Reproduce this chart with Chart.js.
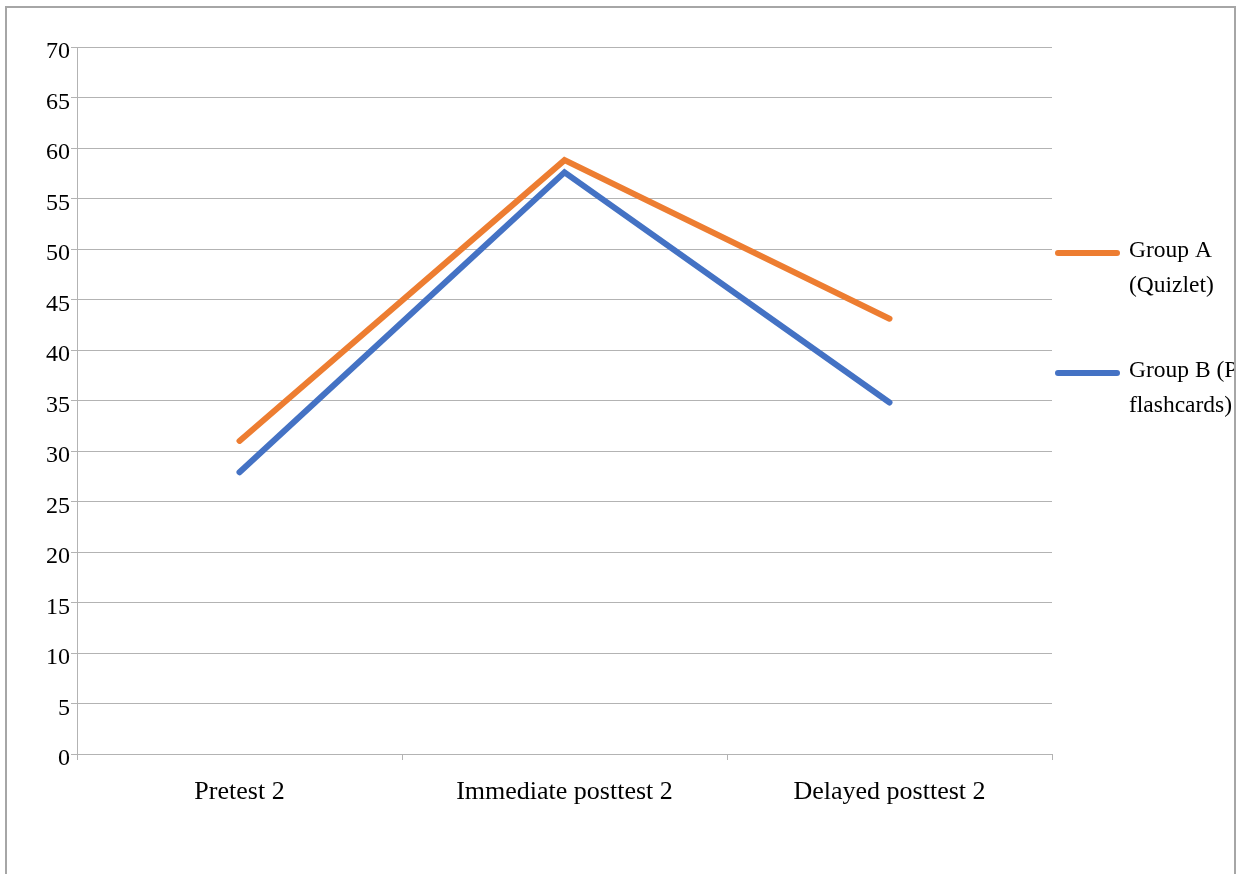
<!DOCTYPE html>
<html>
<head>
<meta charset="utf-8">
<title>Group A vs Group B test scores</title>
<script src="https://cdn.jsdelivr.net/npm/chart.js@4/dist/chart.umd.min.js"></script>
<style>
  html, body { margin: 0; padding: 0; background: #ffffff; }
  canvas { display: block; }
</style>
</head>
<body>
<canvas id="chart" width="1238" height="874"></canvas>
<script>
// Test stages on the x axis
const categories = ['Pretest 2', 'Immediate posttest 2', 'Delayed posttest 2'];

// Mean scores per group
const groupA = [31.0, 58.8, 43.1];
const groupB = [27.9, 57.6, 34.8];

// Series names and how they wrap in the legend
const seriesNames = ['Group A (Quizlet)', 'Group B (Paper flashcards)'];
const legendLines = [['Group A', '(Quizlet)'], ['Group B (Paper', 'flashcards)']];

// Y axis range
const yMin = 0, yMax = 70, yStep = 5;

const FONT = '"Liberation Serif", "Times New Roman", serif';
const GRID = '#b3b3b3';
const COLORS = ['#ed7d31', '#4472c4'];

// Thin frame around the whole figure
const framePlugin = {
  id: 'frame',
  beforeDraw(chart) {
    const ctx = chart.ctx;
    ctx.save();
    ctx.fillStyle = '#ffffff';
    ctx.fillRect(0, 0, chart.width, chart.height);
    ctx.strokeStyle = '#a6a6a6';
    ctx.lineWidth = 2;
    ctx.strokeRect(6, 7, 1229, 900);
    ctx.restore();
  }
};

// Legend on the right: a short line sample followed by wrapped text
const sideLegend = {
  id: 'sideLegend',
  afterDraw(chart, args, opts) {
    const ctx = chart.ctx;
    ctx.save();
    ctx.beginPath();
    ctx.rect(0, 0, opts.clipRight, chart.height);
    ctx.clip();
    chart.data.datasets.forEach((ds, i) => {
      const y = opts.rows[i];
      ctx.strokeStyle = ds.borderColor;
      ctx.lineWidth = 6;
      ctx.lineCap = 'round';
      ctx.beginPath();
      ctx.moveTo(opts.lineX0, y);
      ctx.lineTo(opts.lineX1, y);
      ctx.stroke();
      ctx.fillStyle = '#000000';
      ctx.font = '23.5px ' + FONT;
      ctx.textAlign = 'left';
      ctx.textBaseline = 'middle';
      legendLines[i].forEach((t, k) => {
        ctx.fillText(t, opts.textX, y - 2 + k * opts.lineGap);
      });
    });
    ctx.restore();
  }
};

new Chart(document.getElementById('chart'), {
  type: 'line',
  data: {
    labels: categories,
    datasets: [
      {
        label: seriesNames[0],
        data: groupA,
        borderColor: COLORS[0],
        backgroundColor: COLORS[0],
        borderWidth: 6,
        borderCapStyle: 'round',
        borderJoinStyle: 'miter',
        pointRadius: 0,
        tension: 0,
        fill: false
      },
      {
        label: seriesNames[1],
        data: groupB,
        borderColor: COLORS[1],
        backgroundColor: COLORS[1],
        borderWidth: 6,
        borderCapStyle: 'round',
        borderJoinStyle: 'miter',
        pointRadius: 0,
        tension: 0,
        fill: false
      }
    ]
  },
  options: {
    responsive: false,
    devicePixelRatio: 1,
    animation: false,
    layout: { padding: { top: 47, right: 186, bottom: 0, left: 0 } },
    plugins: {
      legend: { display: false },
      tooltip: { enabled: false },
      sideLegend: {
        rows: [253, 373],
        lineX0: 1058,
        lineX1: 1117,
        textX: 1129,
        lineGap: 35,
        clipRight: 1234
      }
    },
    scales: {
      x: {
        type: 'category',
        offset: true,
        afterFit(scale) { scale.height = 120; },
        grid: {
          offset: true,
          drawOnChartArea: false,
          drawTicks: true,
          tickLength: 6,
          color: GRID
        },
        border: { display: true, color: GRID, width: 1 },
        ticks: {
          color: '#000000',
          font: { family: FONT, size: 26 },
          padding: 17,
          maxRotation: 0,
          autoSkip: false
        }
      },
      y: {
        min: yMin,
        max: yMax,
        afterFit(scale) { scale.width = 77; },
        grid: {
          color: GRID,
          lineWidth: 1,
          drawTicks: true,
          tickLength: 6
        },
        border: { display: true, color: GRID, width: 1 },
        ticks: {
          stepSize: yStep,
          color: '#000000',
          font: { family: FONT, size: 24 },
          padding: 1,
          labelOffset: 5
        }
      }
    }
  },
  plugins: [framePlugin, sideLegend]
});
</script>
</body>
</html>
